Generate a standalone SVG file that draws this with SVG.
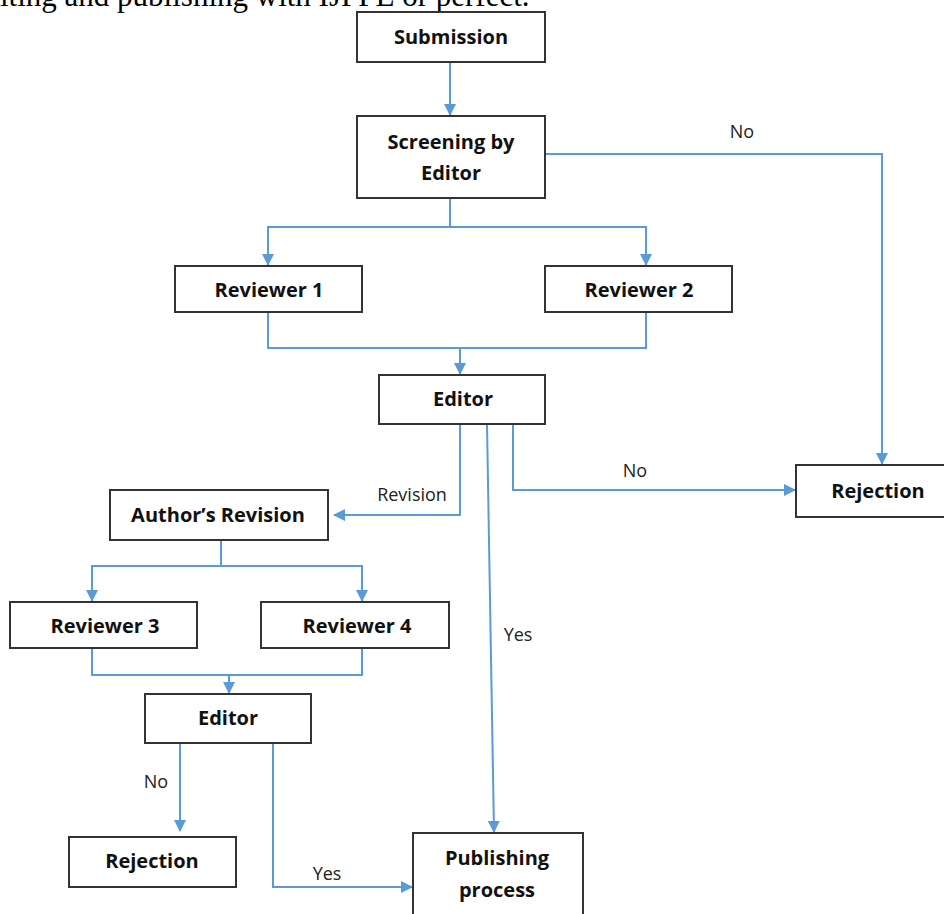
<svg xmlns="http://www.w3.org/2000/svg" width="944" height="914" viewBox="0 0 944 914">
<style>
.box{fill:#fff;stroke:#333;stroke-width:2}
.t{font-family:"Open Sans","Liberation Sans",sans-serif;font-weight:bold;font-size:20px;fill:#111;text-anchor:middle}
.l{font-family:"Open Sans","Liberation Sans",sans-serif;font-size:18px;fill:#222;text-anchor:middle}
.c{fill:none;stroke:#5B9BD5;stroke-width:2}
.top{font-family:"Liberation Serif",serif;font-size:31px;fill:#000}
</style>
<defs>
<marker id="a" markerWidth="12" markerHeight="12" refX="11" refY="6" orient="auto" markerUnits="userSpaceOnUse">
<path d="M0,0 L12,6 L0,12 Z" fill="#5B9BD5"/>
</marker>
</defs>
<text class="top" x="0" y="6">iting and publishing with IJPPE or perfect.</text>
<g id="connectors">
<path class="c" d="M450,62 V115" marker-end="url(#a)"/>
<path class="c" d="M545,154 H882 V464" marker-end="url(#a)"/>
<path class="c" d="M450,198 V227"/>
<path class="c" d="M450,227 H268 V265" marker-end="url(#a)"/>
<path class="c" d="M450,227 H646 V265" marker-end="url(#a)"/>
<path class="c" d="M268,312 V348 H646 V312"/>
<path class="c" d="M460,348 V374" marker-end="url(#a)"/>
<path class="c" d="M460,424 V515 H334" marker-end="url(#a)"/>
<path class="c" d="M487,424 L494,832" marker-end="url(#a)"/>
<path class="c" d="M525,424 H513 V490 H795" marker-end="url(#a)"/>
<path class="c" d="M221,540 V566"/>
<path class="c" d="M221,566 H92 V601" marker-end="url(#a)"/>
<path class="c" d="M221,566 H362 V601" marker-end="url(#a)"/>
<path class="c" d="M92,648 V675 H362 V648"/>
<path class="c" d="M229,675 V693" marker-end="url(#a)"/>
<path class="c" d="M180,743 V831" marker-end="url(#a)"/>
<path class="c" d="M273,743 V887 H412" marker-end="url(#a)"/>
</g>
<g id="labels">
<text class="l" x="742" y="138">No</text>
<text class="l" x="412" y="501">Revision</text>
<text class="l" x="635" y="477">No</text>
<text class="l" x="518" y="641">Yes</text>
<text class="l" x="156" y="788">No</text>
<text class="l" x="327" y="880">Yes</text>
</g>
<g id="submission"><rect class="box" x="357" y="12" width="188" height="50"/><text class="t" x="451" y="44">Submission</text></g>
<g id="screening"><rect class="box" x="357" y="116" width="188" height="82"/><text class="t" x="451" y="149">Screening by</text><text class="t" x="451" y="180">Editor</text></g>
<g id="reviewer1"><rect class="box" x="175" y="266" width="187" height="46"/><text class="t" x="269" y="297">Reviewer 1</text></g>
<g id="reviewer2"><rect class="box" x="545" y="266" width="187" height="46"/><text class="t" x="639" y="297">Reviewer 2</text></g>
<g id="editor1"><rect class="box" x="379" y="375" width="166" height="49"/><text class="t" x="463" y="406">Editor</text></g>
<g id="rejection1"><rect class="box" x="796" y="465" width="150" height="52"/><text class="t" x="878" y="498">Rejection</text></g>
<g id="authors-revision"><rect class="box" x="110" y="490" width="218" height="50"/><text class="t" x="218" y="522">Author’s Revision</text></g>
<g id="reviewer3"><rect class="box" x="10" y="602" width="187" height="46"/><text class="t" x="105" y="633">Reviewer 3</text></g>
<g id="reviewer4"><rect class="box" x="261" y="602" width="188" height="46"/><text class="t" x="357" y="633">Reviewer 4</text></g>
<g id="editor2"><rect class="box" x="145" y="694" width="166" height="49"/><text class="t" x="228" y="725">Editor</text></g>
<g id="rejection2"><rect class="box" x="69" y="837" width="167" height="50"/><text class="t" x="152" y="868">Rejection</text></g>
<g id="publishing"><rect class="box" x="413" y="833" width="170" height="84"/><text class="t" x="497" y="865">Publishing</text><text class="t" x="497" y="897">process</text></g>
</svg>
